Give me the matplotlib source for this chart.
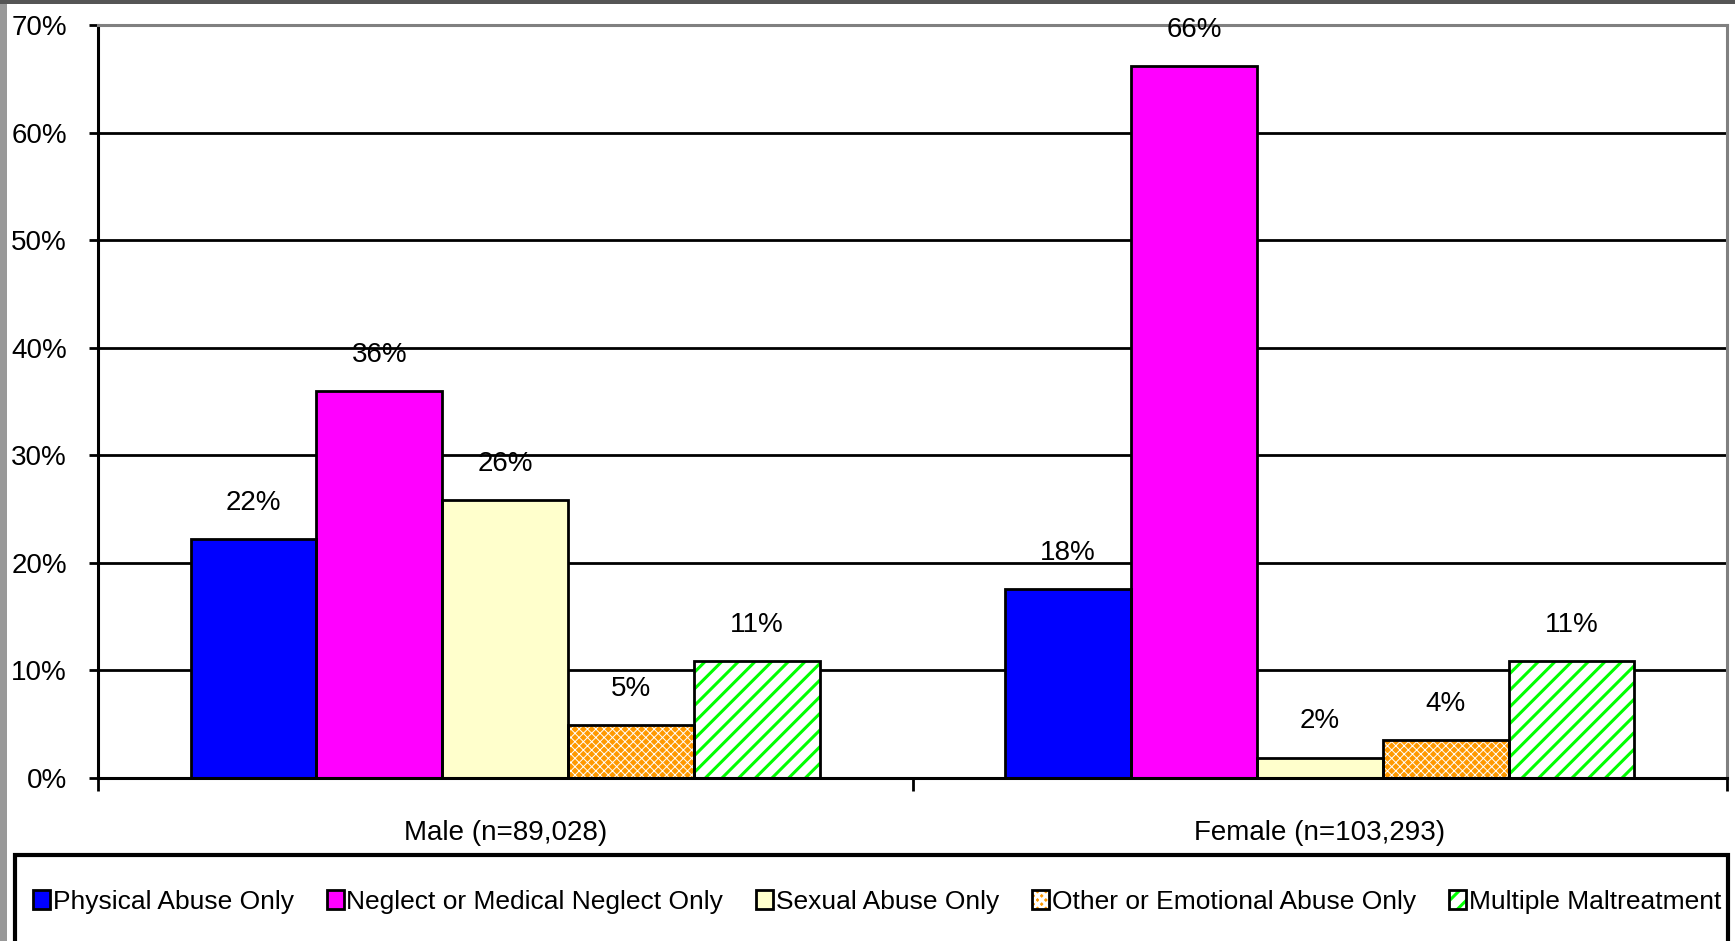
import matplotlib
matplotlib.use("Agg")
import matplotlib.pyplot as plt
import numpy as np
from matplotlib.patches import Rectangle
from matplotlib.legend_handler import HandlerTuple

plt.rcParams['font.family'] = ['Liberation Sans Narrow', 'Liberation Sans', 'DejaVu Sans']

groups = ['Male (n=89,028)', 'Female (n=103,293)']
series = ['Physical Abuse Only', 'Neglect or Medical Neglect Only', 'Sexual Abuse Only',
          'Other or Emotional Abuse Only', 'Multiple Maltreatment']
physical = [22.2, 17.6]
neglect = [36.0, 66.2]
sexual = [25.8, 1.9]
other = [4.9, 3.5]
multiple = [10.9, 10.9]
pct_labels = [['22%', '18%'], ['36%', '66%'], ['26%', '2%'], ['5%', '4%'], ['11%', '11%']]

values = [physical, neglect, sexual, other, multiple]
fills = ['#0000FF', '#FF00FF', '#FFFFCC', '#FF9900', '#FFFFFF']
hatches = [None, None, None, 'xxxx', '//']
hatch_cols = ['black', 'black', 'black', 'white', '#00FF00']
hatch_lws = [1.0, 1.0, 1.0, 0.7, 2.2]

W, H = 1735, 941
fig = plt.figure(figsize=(W / 100, H / 100), dpi=100)
fig.patch.set_facecolor('white')

# grey window frame left/top
fig.patches.append(Rectangle((0, 0), 7 / W, 1, transform=fig.transFigure,
                             facecolor='#999999', edgecolor='none', zorder=0))
fig.patches.append(Rectangle((0, 1 - 4 / H), 1, 4 / H, transform=fig.transFigure,
                             facecolor='#555555', edgecolor='none', zorder=0))

ax = fig.add_axes([98 / W, 1 - 778 / H, (1727 - 98) / W, (778 - 25) / H])

x = np.arange(len(groups))
w = 0.1545
handles = []
for i, vals in enumerate(values):
    pos = x + (i - 2) * w
    plt.rcParams['hatch.linewidth'] = hatch_lws[i]
    fill = ax.bar(pos, vals, w, color=fills[i], hatch=hatches[i],
                  edgecolor=hatch_cols[i], linewidth=0, zorder=2)
    for p in fill:
        if hasattr(p, 'set_hatch_linewidth'):
            p.set_hatch_linewidth(hatch_lws[i])
    outline = ax.bar(pos, vals, w, fill=False, edgecolor='black', linewidth=2, zorder=3)
    handles.append((fill[0], outline[0]))
    for rect, lab in zip(outline, pct_labels[i]):
        ax.annotate(lab, (rect.get_x() + rect.get_width() / 2, rect.get_height()),
                    xytext=(0, 26), textcoords='offset points', ha='center', va='center',
                    fontsize=20, color='black')

ax.set_xlim(-0.5, 1.5)
ax.set_ylim(0, 70)
ax.set_yticks(np.arange(0, 71, 10))
ax.set_yticklabels([f'{v}%' for v in range(0, 71, 10)])
ax.set_xticks(x)
ax.set_xticklabels(groups)
ax.set_xticks([-0.5, 0.5, 1.5], minor=True)
ax.tick_params(axis='x', which='major', length=0, pad=30, labelsize=20)
ax.tick_params(axis='x', which='minor', length=9, width=2, direction='out')
ax.tick_params(axis='y', length=6.5, width=2, direction='out', pad=16, labelsize=20)

ax.set_axisbelow(True)
ax.yaxis.grid(True, color='black', linewidth=2)
for s in ['left', 'bottom']:
    ax.spines[s].set_color('black')
    ax.spines[s].set_linewidth(2.2)
for s in ['top', 'right']:
    ax.spines[s].set_color('#808080')
    ax.spines[s].set_linewidth(2.2)

# legend box
fig.patches.append(Rectangle((15 / W, -0.02), (1728 - 15) / W, (H - 855) / H + 0.02,
                             transform=fig.transFigure, facecolor='white',
                             edgecolor='black', linewidth=3, zorder=1))
fig.legend(handles, series, handler_map={tuple: HandlerTuple(ndivide=1)},
           loc='center', bbox_to_anchor=(877 / W, (H - 902) / H),
           ncol=5, frameon=False, borderaxespad=0, borderpad=0,
           fontsize=19, handlelength=0.65, handleheight=0.75, handletextpad=0.1,
           columnspacing=1.25)

fig.savefig('out.png', dpi=100, facecolor='white')
